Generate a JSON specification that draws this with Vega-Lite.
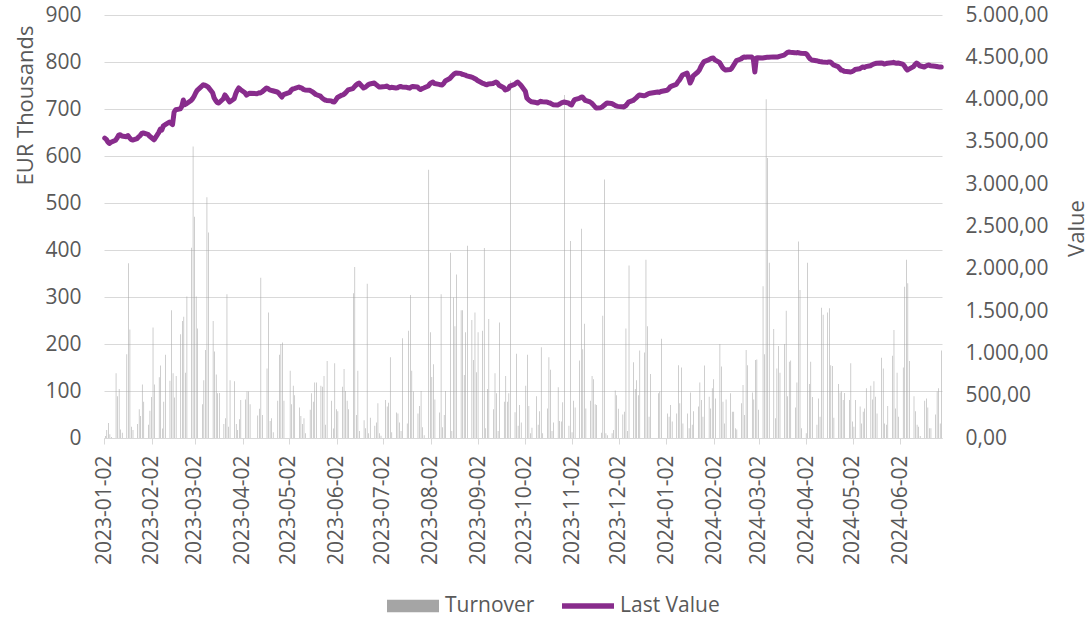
{
"$schema": "https://vega.github.io/schema/vega-lite/v6.json",
"width": 838, "height": 423,
"autosize": {"type": "none"},
"padding": {"left": 104, "top": 15, "right": 147, "bottom": 181},
"background": "white",
"config": {
  "locale": {"number": {"decimal": ",", "thousands": ".", "grouping": [3], "currency": ["", " €"]}},
  "view": {"stroke": null},
  "font": "Open Sans",
  "axis": {"labelFont": "Open Sans", "titleFont": "Open Sans", "labelColor": "#595959", "titleColor": "#595959", "labelFontSize": 21, "titleFontSize": 22, "titleFontWeight": "normal"}
},
"data": {"values": [
{"d":"2023-01-02","t":4,"v":3545},{"d":"2023-01-03","t":17,"v":3530},{"d":"2023-01-04","t":32,"v":3500},{"d":"2023-01-05","t":8,"v":3482},{"d":"2023-01-06","t":2,"v":3495},
{"d":"2023-01-09","t":138,"v":3520},{"d":"2023-01-10","t":89,"v":3545},{"d":"2023-01-11","t":104,"v":3580},{"d":"2023-01-12","t":18,"v":3585},{"d":"2023-01-13","t":11,"v":3570},
{"d":"2023-01-16","t":178,"v":3562},{"d":"2023-01-17","t":372,"v":3575},{"d":"2023-01-18","t":231,"v":3550},{"d":"2023-01-19","t":24,"v":3530},{"d":"2023-01-20","t":17,"v":3522},
{"d":"2023-01-23","t":30,"v":3540},{"d":"2023-01-24","t":61,"v":3560},{"d":"2023-01-25","t":47,"v":3575},{"d":"2023-01-26","t":114,"v":3600},{"d":"2023-01-27","t":77,"v":3605},
{"d":"2023-01-30","t":28,"v":3590},{"d":"2023-01-31","t":58,"v":3570},{"d":"2023-02-01","t":87,"v":3555},{"d":"2023-02-02","t":235,"v":3540},{"d":"2023-02-03","t":114,"v":3525},
{"d":"2023-02-06","t":129,"v":3610},{"d":"2023-02-07","t":154,"v":3650},{"d":"2023-02-08","t":20,"v":3640},{"d":"2023-02-09","t":77,"v":3690},{"d":"2023-02-10","t":177,"v":3700},
{"d":"2023-02-13","t":122,"v":3735},{"d":"2023-02-14","t":272,"v":3720},{"d":"2023-02-15","t":138,"v":3705},{"d":"2023-02-16","t":86,"v":3850},{"d":"2023-02-17","t":132,"v":3880},
{"d":"2023-02-20","t":221,"v":3890},{"d":"2023-02-21","t":249,"v":3920},{"d":"2023-02-22","t":258,"v":3995},{"d":"2023-02-23","t":139,"v":3940},{"d":"2023-02-24","t":301,"v":3950},
{"d":"2023-02-27","t":405,"v":3990},{"d":"2023-02-28","t":620,"v":4010},{"d":"2023-03-01","t":471,"v":4040},{"d":"2023-03-02","t":301,"v":4078},{"d":"2023-03-03","t":233,"v":4110},
{"d":"2023-03-06","t":72,"v":4160},{"d":"2023-03-07","t":123,"v":4175},{"d":"2023-03-08","t":187,"v":4170},{"d":"2023-03-09","t":512,"v":4160},{"d":"2023-03-10","t":437,"v":4150},
{"d":"2023-03-13","t":249,"v":4080},{"d":"2023-03-14","t":184,"v":4020},{"d":"2023-03-15","t":135,"v":3990},{"d":"2023-03-16","t":95,"v":3965},{"d":"2023-03-17","t":96,"v":3960},
{"d":"2023-03-20","t":30,"v":4010},{"d":"2023-03-21","t":42,"v":4055},{"d":"2023-03-22","t":306,"v":4030},{"d":"2023-03-23","t":24,"v":4000},{"d":"2023-03-24","t":123,"v":3972},
{"d":"2023-03-27","t":121,"v":4010},{"d":"2023-03-28","t":30,"v":4070},{"d":"2023-03-29","t":17,"v":4110},{"d":"2023-03-30","t":40,"v":4137},{"d":"2023-03-31","t":81,"v":4120},
{"d":"2023-04-03","t":82,"v":4080},{"d":"2023-04-04","t":99,"v":4054},{"d":"2023-04-05","t":99,"v":4065},{"d":"2023-04-06","t":72,"v":4075},
{"d":"2023-04-11","t":48,"v":4070},{"d":"2023-04-12","t":62,"v":4080},{"d":"2023-04-13","t":341,"v":4078},{"d":"2023-04-14","t":49,"v":4090},
{"d":"2023-04-17","t":148,"v":4137},{"d":"2023-04-18","t":267,"v":4130},{"d":"2023-04-19","t":36,"v":4115},{"d":"2023-04-20","t":42,"v":4110},{"d":"2023-04-21","t":12,"v":4105},
{"d":"2023-04-24","t":79,"v":4090},{"d":"2023-04-25","t":177,"v":4075},{"d":"2023-04-26","t":200,"v":4050},{"d":"2023-04-27","t":203,"v":4031},{"d":"2023-04-28","t":79,"v":4060},
{"d":"2023-05-02","t":143,"v":4085},{"d":"2023-05-03","t":72,"v":4110},{"d":"2023-05-04","t":111,"v":4125},{"d":"2023-05-05","t":91,"v":4130},
{"d":"2023-05-08","t":65,"v":4149},{"d":"2023-05-09","t":47,"v":4140},{"d":"2023-05-10","t":30,"v":4135},{"d":"2023-05-11","t":42,"v":4120},{"d":"2023-05-12","t":10,"v":4113},
{"d":"2023-05-15","t":60,"v":4110},{"d":"2023-05-16","t":95,"v":4100},{"d":"2023-05-17","t":77,"v":4090},{"d":"2023-05-18","t":118,"v":4075},{"d":"2023-05-19","t":118,"v":4060},
{"d":"2023-05-22","t":111,"v":4040},{"d":"2023-05-23","t":109,"v":4020},{"d":"2023-05-24","t":132,"v":4005},{"d":"2023-05-25","t":28,"v":3995},{"d":"2023-05-26","t":164,"v":3990},
{"d":"2023-05-29","t":79,"v":3985},{"d":"2023-05-30","t":20,"v":3975},{"d":"2023-05-31","t":159,"v":3972},{"d":"2023-06-01","t":61,"v":3995},{"d":"2023-06-02","t":57,"v":4025},
{"d":"2023-06-05","t":109,"v":4054},{"d":"2023-06-06","t":147,"v":4060},{"d":"2023-06-07","t":100,"v":4075},{"d":"2023-06-08","t":79,"v":4095},{"d":"2023-06-09","t":61,"v":4115},
{"d":"2023-06-12","t":308,"v":4130},{"d":"2023-06-13","t":364,"v":4150},{"d":"2023-06-14","t":49,"v":4170},{"d":"2023-06-15","t":143,"v":4185},{"d":"2023-06-16","t":15,"v":4196},
{"d":"2023-06-19","t":38,"v":4137},{"d":"2023-06-20","t":21,"v":4145},{"d":"2023-06-21","t":328,"v":4160},{"d":"2023-06-22","t":10,"v":4175},{"d":"2023-06-23","t":43,"v":4185},
{"d":"2023-06-26","t":26,"v":4196},{"d":"2023-06-27","t":33,"v":4180},{"d":"2023-06-28","t":74,"v":4165},{"d":"2023-06-29","t":10,"v":4150},{"d":"2023-06-30","t":5,"v":4149},
{"d":"2023-07-03","t":81,"v":4155},{"d":"2023-07-04","t":67,"v":4160},{"d":"2023-07-05","t":75,"v":4150},{"d":"2023-07-06","t":172,"v":4140},{"d":"2023-07-07","t":12,"v":4145},
{"d":"2023-07-10","t":54,"v":4137},{"d":"2023-07-11","t":52,"v":4140},{"d":"2023-07-12","t":33,"v":4150},{"d":"2023-07-13","t":15,"v":4155},{"d":"2023-07-14","t":212,"v":4150},
{"d":"2023-07-17","t":31,"v":4145},{"d":"2023-07-18","t":228,"v":4140},{"d":"2023-07-19","t":304,"v":4135},{"d":"2023-07-20","t":143,"v":4150},{"d":"2023-07-21","t":99,"v":4155},
{"d":"2023-07-24","t":52,"v":4150},{"d":"2023-07-25","t":68,"v":4130},{"d":"2023-07-26","t":100,"v":4120},{"d":"2023-07-27","t":23,"v":4130},{"d":"2023-07-28","t":6,"v":4137},
{"d":"2023-07-31","t":571,"v":4160},{"d":"2023-08-01","t":225,"v":4185},{"d":"2023-08-02","t":130,"v":4200},{"d":"2023-08-03","t":157,"v":4208},{"d":"2023-08-04","t":82,"v":4190},
{"d":"2023-08-07","t":54,"v":4180},{"d":"2023-08-08","t":306,"v":4175},{"d":"2023-08-09","t":23,"v":4173},{"d":"2023-08-10","t":49,"v":4190},{"d":"2023-08-11","t":100,"v":4220},
{"d":"2023-08-14","t":394,"v":4250},{"d":"2023-08-15","t":15,"v":4270},{"d":"2023-08-16","t":299,"v":4290},{"d":"2023-08-17","t":238,"v":4305},{"d":"2023-08-18","t":348,"v":4314},
{"d":"2023-08-21","t":272,"v":4310},{"d":"2023-08-22","t":272,"v":4300},{"d":"2023-08-23","t":134,"v":4295},{"d":"2023-08-24","t":225,"v":4290},{"d":"2023-08-25","t":409,"v":4280},
{"d":"2023-08-28","t":251,"v":4267},{"d":"2023-08-29","t":166,"v":4260},{"d":"2023-08-30","t":267,"v":4250},{"d":"2023-08-31","t":140,"v":4240},{"d":"2023-09-01","t":225,"v":4225},
{"d":"2023-09-04","t":228,"v":4196},{"d":"2023-09-05","t":404,"v":4190},{"d":"2023-09-06","t":21,"v":4180},{"d":"2023-09-07","t":104,"v":4175},{"d":"2023-09-08","t":253,"v":4185},
{"d":"2023-09-11","t":61,"v":4190},{"d":"2023-09-12","t":138,"v":4200},{"d":"2023-09-13","t":95,"v":4208},{"d":"2023-09-14","t":15,"v":4195},{"d":"2023-09-15","t":246,"v":4170},
{"d":"2023-09-18","t":77,"v":4140},{"d":"2023-09-19","t":132,"v":4113},{"d":"2023-09-20","t":77,"v":4120},{"d":"2023-09-21","t":95,"v":4130},{"d":"2023-09-22","t":760,"v":4160},
{"d":"2023-09-25","t":55,"v":4180},{"d":"2023-09-26","t":179,"v":4195},{"d":"2023-09-27","t":26,"v":4208},{"d":"2023-09-28","t":70,"v":4190},{"d":"2023-09-29","t":33,"v":4173},
{"d":"2023-10-02","t":111,"v":4100},{"d":"2023-10-03","t":177,"v":4019},{"d":"2023-10-04","t":68,"v":4000},{"d":"2023-10-05","t":10,"v":3985},{"d":"2023-10-06","t":22,"v":3975},
{"d":"2023-10-09","t":89,"v":3965},{"d":"2023-10-10","t":28,"v":3960},{"d":"2023-10-11","t":57,"v":3970},{"d":"2023-10-12","t":193,"v":3980},{"d":"2023-10-13","t":10,"v":3975},
{"d":"2023-10-16","t":63,"v":3972},{"d":"2023-10-17","t":172,"v":3965},{"d":"2023-10-18","t":145,"v":3960},{"d":"2023-10-19","t":15,"v":3950},{"d":"2023-10-20","t":33,"v":3940},
{"d":"2023-10-23","t":108,"v":3936},{"d":"2023-10-24","t":36,"v":3945},{"d":"2023-10-25","t":35,"v":3955},{"d":"2023-10-26","t":76,"v":3965},{"d":"2023-10-27","t":730,"v":3972},
{"d":"2023-10-30","t":26,"v":3960},{"d":"2023-10-31","t":419,"v":3945},{"d":"2023-11-01","t":12,"v":3936},{"d":"2023-11-02","t":79,"v":3970},{"d":"2023-11-03","t":65,"v":4000},
{"d":"2023-11-06","t":165,"v":4015},{"d":"2023-11-07","t":445,"v":4025},{"d":"2023-11-08","t":189,"v":4031},{"d":"2023-11-09","t":243,"v":4010},{"d":"2023-11-10","t":63,"v":3990},
{"d":"2023-11-13","t":79,"v":3972},{"d":"2023-11-14","t":132,"v":3960},{"d":"2023-11-15","t":125,"v":3940},{"d":"2023-11-16","t":72,"v":3920},{"d":"2023-11-17","t":70,"v":3901},
{"d":"2023-11-20","t":11,"v":3905},{"d":"2023-11-21","t":260,"v":3915},{"d":"2023-11-22","t":550,"v":3930},{"d":"2023-11-23","t":10,"v":3945},{"d":"2023-11-24","t":6,"v":3960},
{"d":"2023-11-27","t":10,"v":3955},{"d":"2023-11-28","t":17,"v":3945},{"d":"2023-11-29","t":101,"v":3935},{"d":"2023-11-30","t":91,"v":3925},{"d":"2023-12-01","t":62,"v":3920},
{"d":"2023-12-04","t":50,"v":3915},{"d":"2023-12-05","t":56,"v":3913},{"d":"2023-12-06","t":233,"v":3925},{"d":"2023-12-07","t":15,"v":3945},{"d":"2023-12-08","t":367,"v":3970},
{"d":"2023-12-11","t":161,"v":3990},{"d":"2023-12-12","t":104,"v":4005},{"d":"2023-12-13","t":123,"v":4020},{"d":"2023-12-14","t":91,"v":4040},{"d":"2023-12-15","t":186,"v":4054},
{"d":"2023-12-18","t":182,"v":4045},{"d":"2023-12-19","t":379,"v":4050},{"d":"2023-12-20","t":238,"v":4060},{"d":"2023-12-21","t":45,"v":4070},{"d":"2023-12-22","t":136,"v":4075},
{"d":"2023-12-27","t":95,"v":4090},{"d":"2023-12-28","t":99,"v":4085},{"d":"2023-12-29","t":211,"v":4095},
{"d":"2024-01-02","t":52,"v":4110},{"d":"2024-01-03","t":45,"v":4125},{"d":"2024-01-04","t":70,"v":4149},{"d":"2024-01-05","t":35,"v":4160},
{"d":"2024-01-08","t":52,"v":4180},{"d":"2024-01-09","t":155,"v":4208},{"d":"2024-01-10","t":74,"v":4230},{"d":"2024-01-11","t":150,"v":4260},{"d":"2024-01-12","t":31,"v":4291},
{"d":"2024-01-15","t":52,"v":4314},{"d":"2024-01-16","t":21,"v":4260},{"d":"2024-01-17","t":97,"v":4196},{"d":"2024-01-18","t":28,"v":4230},{"d":"2024-01-19","t":57,"v":4280},
{"d":"2024-01-22","t":67,"v":4326},{"d":"2024-01-23","t":118,"v":4350},{"d":"2024-01-24","t":81,"v":4390},{"d":"2024-01-25","t":45,"v":4420},{"d":"2024-01-26","t":154,"v":4450},
{"d":"2024-01-29","t":88,"v":4470},{"d":"2024-01-30","t":63,"v":4480},{"d":"2024-01-31","t":106,"v":4490},{"d":"2024-02-01","t":125,"v":4492},{"d":"2024-02-02","t":84,"v":4470},
{"d":"2024-02-05","t":200,"v":4440},{"d":"2024-02-06","t":152,"v":4410},{"d":"2024-02-07","t":77,"v":4380},{"d":"2024-02-08","t":31,"v":4360},{"d":"2024-02-09","t":82,"v":4350},
{"d":"2024-02-12","t":95,"v":4355},{"d":"2024-02-13","t":56,"v":4370},{"d":"2024-02-14","t":56,"v":4400},{"d":"2024-02-15","t":21,"v":4430},{"d":"2024-02-16","t":18,"v":4460},
{"d":"2024-02-19","t":74,"v":4480},{"d":"2024-02-20","t":113,"v":4495},{"d":"2024-02-21","t":49,"v":4504},{"d":"2024-02-22","t":187,"v":4500},{"d":"2024-02-23","t":155,"v":4505},
{"d":"2024-02-26","t":97,"v":4504},{"d":"2024-02-27","t":82,"v":4480},{"d":"2024-02-28","t":166,"v":4326},{"d":"2024-02-29","t":167,"v":4492},{"d":"2024-03-01","t":60,"v":4495},
{"d":"2024-03-04","t":323,"v":4492},{"d":"2024-03-05","t":178,"v":4495},{"d":"2024-03-06","t":721,"v":4498},{"d":"2024-03-07","t":596,"v":4500},{"d":"2024-03-08","t":373,"v":4502},
{"d":"2024-03-11","t":232,"v":4505},{"d":"2024-03-12","t":42,"v":4503},{"d":"2024-03-13","t":148,"v":4504},{"d":"2024-03-14","t":196,"v":4504},{"d":"2024-03-15","t":139,"v":4510},
{"d":"2024-03-18","t":200,"v":4525},{"d":"2024-03-19","t":271,"v":4540},{"d":"2024-03-20","t":89,"v":4555},{"d":"2024-03-21","t":162,"v":4563},{"d":"2024-03-22","t":165,"v":4560},
{"d":"2024-03-25","t":65,"v":4555},{"d":"2024-03-26","t":118,"v":4552},{"d":"2024-03-27","t":418,"v":4556},{"d":"2024-03-28","t":315,"v":4551},{"d":"2024-03-29","t":21,"v":4548},
{"d":"2024-04-01","t":10,"v":4545},{"d":"2024-04-02","t":373,"v":4530},{"d":"2024-04-03","t":115,"v":4500},{"d":"2024-04-04","t":162,"v":4480},{"d":"2024-04-05","t":87,"v":4468},
{"d":"2024-04-08","t":28,"v":4460},{"d":"2024-04-09","t":84,"v":4455},{"d":"2024-04-10","t":45,"v":4450},{"d":"2024-04-11","t":277,"v":4448},{"d":"2024-04-12","t":262,"v":4445},
{"d":"2024-04-15","t":267,"v":4440},{"d":"2024-04-16","t":276,"v":4445},{"d":"2024-04-17","t":155,"v":4444},{"d":"2024-04-18","t":153,"v":4430},{"d":"2024-04-19","t":43,"v":4410},
{"d":"2024-04-22","t":115,"v":4390},{"d":"2024-04-23","t":97,"v":4370},{"d":"2024-04-24","t":99,"v":4350},{"d":"2024-04-25","t":81,"v":4345},{"d":"2024-04-26","t":96,"v":4335},
{"d":"2024-04-29","t":81,"v":4330},{"d":"2024-04-30","t":159,"v":4326},{"d":"2024-05-01","t":35,"v":4330},{"d":"2024-05-02","t":24,"v":4340},{"d":"2024-05-03","t":81,"v":4355},
{"d":"2024-05-06","t":67,"v":4365},{"d":"2024-05-07","t":31,"v":4375},{"d":"2024-05-08","t":56,"v":4385},{"d":"2024-05-09","t":63,"v":4380},{"d":"2024-05-10","t":106,"v":4390},
{"d":"2024-05-13","t":111,"v":4400},{"d":"2024-05-14","t":82,"v":4410},{"d":"2024-05-15","t":121,"v":4420},{"d":"2024-05-16","t":88,"v":4425},{"d":"2024-05-17","t":52,"v":4430},
{"d":"2024-05-20","t":171,"v":4433},{"d":"2024-05-21","t":148,"v":4430},{"d":"2024-05-22","t":31,"v":4420},{"d":"2024-05-23","t":28,"v":4425},{"d":"2024-05-24","t":68,"v":4430},
{"d":"2024-05-27","t":175,"v":4435},{"d":"2024-05-28","t":230,"v":4440},{"d":"2024-05-29","t":63,"v":4433},{"d":"2024-05-30","t":139,"v":4430},{"d":"2024-05-31","t":45,"v":4433},
{"d":"2024-06-03","t":150,"v":4420},{"d":"2024-06-04","t":322,"v":4400},{"d":"2024-06-05","t":379,"v":4370},{"d":"2024-06-06","t":329,"v":4350},{"d":"2024-06-07","t":164,"v":4360},
{"d":"2024-06-10","t":89,"v":4390},{"d":"2024-06-11","t":57,"v":4415},{"d":"2024-06-12","t":28,"v":4433},{"d":"2024-06-13","t":24,"v":4420},{"d":"2024-06-14","t":4,"v":4400},
{"d":"2024-06-17","t":79,"v":4385},{"d":"2024-06-18","t":84,"v":4395},{"d":"2024-06-19","t":65,"v":4405},{"d":"2024-06-20","t":21,"v":4409},{"d":"2024-06-21","t":21,"v":4400},
{"d":"2024-06-24","t":50,"v":4395},{"d":"2024-06-25","t":99,"v":4392},{"d":"2024-06-26","t":106,"v":4388},{"d":"2024-06-27","t":31,"v":4385},{"d":"2024-06-28","t":186,"v":4385}
]},
"layer": [
  {
    "mark": {"type": "bar"},
    "encoding": {
      "x": {"field": "d", "type": "temporal", "timeUnit": "utcyearmonthdate",
        "scale": {"domain": [{"year": 2023, "month": 1, "date": 2, "utc": true}, {"year": 2024, "month": 6, "date": 29, "utc": true}]},
        "axis": {"title": null, "format": "%Y-%m-%d", "labelAngle": 270, "grid": false, "domainColor": "#d9d9d9", "tickColor": "#d9d9d9", "tickSize": 6, "labelPadding": 11, "labelOverlap": false, "labelFlush": false, "labelFontSize": 21,
          "values": [
            {"year": 2023, "month": 1, "date": 2, "utc": true},{"year": 2023, "month": 2, "date": 2, "utc": true},{"year": 2023, "month": 3, "date": 2, "utc": true},
            {"year": 2023, "month": 4, "date": 2, "utc": true},{"year": 2023, "month": 5, "date": 2, "utc": true},{"year": 2023, "month": 6, "date": 2, "utc": true},
            {"year": 2023, "month": 7, "date": 2, "utc": true},{"year": 2023, "month": 8, "date": 2, "utc": true},{"year": 2023, "month": 9, "date": 2, "utc": true},
            {"year": 2023, "month": 10, "date": 2, "utc": true},{"year": 2023, "month": 11, "date": 2, "utc": true},{"year": 2023, "month": 12, "date": 2, "utc": true},
            {"year": 2024, "month": 1, "date": 2, "utc": true},{"year": 2024, "month": 2, "date": 2, "utc": true},{"year": 2024, "month": 3, "date": 2, "utc": true},
            {"year": 2024, "month": 4, "date": 2, "utc": true},{"year": 2024, "month": 5, "date": 2, "utc": true},{"year": 2024, "month": 6, "date": 2, "utc": true}
          ]}},
      "y": {"field": "t", "type": "quantitative", "scale": {"domain": [0, 900]},
        "axis": {"values": [0,100,200,300,400,500,600,700,800,900], "title": "EUR Thousands", "grid": true, "gridColor": "#d9d9d9", "gridWidth": 1, "domain": false, "ticks": false, "labelPadding": 23,
          "titleAngle": 270, "titleAlign": "right", "titleBaseline": "alphabetic", "titleX": -72, "titleY": 10}},
      "color": {"datum": "Turnover", "type": "nominal",
        "scale": {"domain": ["Turnover", "Last Value"], "range": ["#a5a5a5", "#882c8c"]},
        "legend": {"title": null, "orient": "none", "legendX": 283, "legendY": 565, "direction": "horizontal",
          "symbolSize": 2704, "symbolType": "M-1,-0.24H1V0.24H-1Z", "symbolStrokeWidth": 0,
          "labelFontSize": 21, "labelFont": "Open Sans", "labelColor": "#595959", "labelOffset": 6, "columnPadding": 27,
          "encode": {"symbols": {"update": {
            "shape": {"signal": "datum.label === 'Turnover' ? 'M-1,-0.24H1V0.24H-1Z' : 'M-1,-0.11H1V0.11H-1Z'"},
            "fill": {"scale": "color", "field": "value"}, "fillOpacity": {"value": 1}, "strokeWidth": {"value": 0}, "opacity": {"value": 1}}}}}}
    }
  },
  {
    "mark": {"type": "line", "strokeWidth": 5, "strokeJoin": "round", "strokeCap": "round"},
    "encoding": {
      "x": {"field": "d", "type": "temporal", "timeUnit": "utcyearmonthdate", "bandPosition": 0.5},
      "y": {"field": "v", "type": "quantitative", "scale": {"domain": [0, 5000]},
        "axis": {"orient": "right", "values": [0,500,1000,1500,2000,2500,3000,3500,4000,4500,5000], "format": ",.2f", "title": "Value", "grid": false, "domain": false, "ticks": false, "labelPadding": 23,
          "titleAngle": 270, "titleAlign": "center", "titleBaseline": "alphabetic", "titleX": 141, "titleY": 213}},
      "color": {"datum": "Last Value", "type": "nominal"}
    }
  }
],
"resolve": {"scale": {"y": "independent"}}
}
